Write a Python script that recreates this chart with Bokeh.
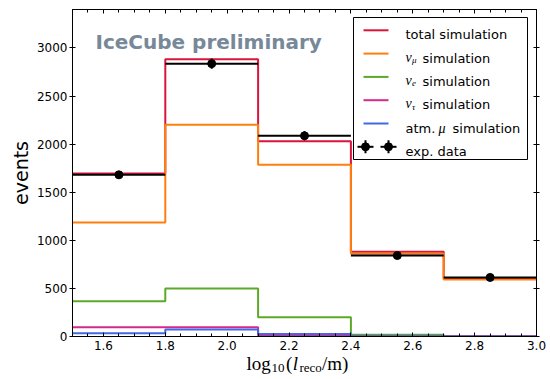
from bokeh.plotting import figure
from bokeh.layouts import column
from bokeh.models import FixedTicker, LinearAxis, Range1d, Label, BoxAnnotation
from bokeh.embed import file_html
from bokeh.resources import INLINE

# Bins in log10 of the reconstructed track length (metres)
bin_edges = [1.5, 1.8, 2.1, 2.4, 2.7, 3.0]

# Event counts per bin
total_sim = [1695, 2882, 2031, 880, 604]
numu_sim = [1185, 2202, 1785, 860, 592]
nue_sim = [366, 500, 201, 18, 4]
nutau_sim = [95, 95, 10, 3, 2]
atmmu_sim = [35, 74, 25, 3, 1]
exp_data = [1681, 2837, 2087, 842, 614]
exp_err = [41, 53, 46, 29, 25]

x_ticks = [1.6, 1.8, 2.0, 2.2, 2.4, 2.6, 2.8, 3.0]
x_tick_labels = ["1.6", "1.8", "2.0", "2.2", "2.4", "2.6", "2.8", "3.0"]
x_minor_ticks = [round(1.5 + 0.05 * i, 2) for i in range(31)]
y_ticks = [0, 500, 1000, 1500, 2000, 2500, 3000]
y_tick_labels = ["0", "500", "1000", "1500", "2000", "2500", "3000"]

series = [
    ("total simulation", total_sim, "#dc143c"),
    ("nu_mu", numu_sim, "#ff7f0e"),
    ("nu_e", nue_sim, "#5ca92a"),
    ("nu_tau", nutau_sim, "#d62a8a"),
    ("atm_mu", atmmu_sim, "#4169e1"),
]

W, H = 550, 379
LEFT, RIGHT, TOP, BOTTOM = 72, 14, 9, 43
X0, X1, Y0, Y1 = 1.5, 3.0, 0, 3400
FW, FH = W - LEFT - RIGHT, H - TOP - BOTTOM


def dx(px):
    """canvas pixel column -> data x"""
    return X0 + (px - LEFT) / FW * (X1 - X0)


def dy(py):
    """canvas pixel row -> data y"""
    return Y0 + (H - BOTTOM - py) / FH * (Y1 - Y0)


p = figure(width=W, height=H, output_backend="svg", toolbar_location=None,
           x_range=Range1d(X0, X1), y_range=Range1d(Y0, Y1),
           min_border_left=LEFT, min_border_right=RIGHT,
           min_border_top=TOP, min_border_bottom=BOTTOM)
p.grid.visible = False
p.outline_line_color = "black"
p.background_fill_color = "white"
p.border_fill_color = "white"

SANS = "DejaVu Sans"
SERIF = "Liberation Serif"


def style_x(ax, labels):
    ax.ticker = FixedTicker(ticks=x_ticks, minor_ticks=x_minor_ticks)
    ax.axis_line_color = "black"
    ax.major_tick_in, ax.major_tick_out = 4, 0
    ax.minor_tick_in, ax.minor_tick_out = 3, 0
    ax.major_tick_line_color = "black"
    ax.minor_tick_line_color = "black"
    if labels:
        ax.major_label_overrides = dict(zip(x_ticks, x_tick_labels))
        ax.major_label_text_font = SANS
        ax.major_label_text_font_size = "12px"
        ax.major_label_text_color = "black"
        ax.major_label_standoff = 4
    else:
        ax.major_label_text_font_size = "1px"
        ax.major_label_text_color = None
        ax.major_label_standoff = 0


def style_y(ax, labels):
    ax.ticker = FixedTicker(ticks=y_ticks, minor_ticks=[])
    ax.axis_line_color = "black"
    ax.major_tick_in, ax.major_tick_out = 3, 3
    ax.minor_tick_line_color = None
    ax.major_tick_line_color = "black"
    if labels:
        ax.major_label_overrides = dict(zip(y_ticks, y_tick_labels))
        ax.major_label_text_font = SANS
        ax.major_label_text_font_size = "12px"
        ax.major_label_text_color = "black"
        ax.major_label_standoff = 2
    else:
        ax.major_label_text_font_size = "1px"
        ax.major_label_text_color = None
        ax.major_label_standoff = 0


style_x(p.xaxis[0], True)
style_y(p.yaxis[0], True)
p.yaxis.axis_label = "events"
p.yaxis.axis_label_text_font = SANS
p.yaxis.axis_label_text_font_size = "19px"
p.yaxis.axis_label_text_font_style = "normal"
p.yaxis.axis_label_text_color = "black"
p.yaxis.axis_label_standoff = 2

top_axis = LinearAxis()
style_x(top_axis, False)
p.add_layout(top_axis, "above")
right_axis = LinearAxis()
style_y(right_axis, False)
p.add_layout(right_axis, "right")

# simulated histograms as step lines
for name, vals, color in series:
    p.step(x=bin_edges, y=vals + [vals[-1]], mode="after",
           line_color=color, line_width=2)

# measured data: bin-wide bars, error bars and points
centers = [(a + b) / 2 for a, b in zip(bin_edges[:-1], bin_edges[1:])]
p.segment(x0=bin_edges[:-1], x1=bin_edges[1:], y0=exp_data, y1=exp_data,
          line_color="black", line_width=2)
p.segment(x0=centers, x1=centers,
          y0=[v - e for v, e in zip(exp_data, exp_err)],
          y1=[v + e for v, e in zip(exp_data, exp_err)],
          line_color="black", line_width=2)
p.scatter(x=centers, y=exp_data, size=8, marker="circle",
          fill_color="black", line_color="black")

# header text
p.add_layout(Label(x=dx(95), y=dy(41.5), text="IceCube preliminary",
                   text_font=SANS, text_font_size="20px",
                   text_font_style="bold", text_color="#778899",
                   text_baseline="alphabetic"))

# legend box
p.add_layout(BoxAnnotation(left=dx(353), right=dx(527), top=dy(17), bottom=dy(159),
                           fill_color="white", fill_alpha=1.0,
                           line_color="black", line_width=1, line_alpha=1.0))

row_y = [29.8 + 23.3 * i for i in range(6)]
sample_x = [dx(363), dx(388)]
for (name, vals, color), ry in zip(series, row_y):
    p.line(x=sample_x, y=[dy(ry), dy(ry)], line_color=color, line_width=2,
           level="overlay")


def legend_text(px, py, text, font=SANS, size="13px", style="normal"):
    p.add_layout(Label(x=dx(px), y=dy(py), text=text, text_font=font,
                       text_font_size=size, text_font_style=style,
                       text_color="black", text_baseline="alphabetic",
                       level="overlay"))


TX = 405
legend_text(TX, row_y[0] + 4.5, "total simulation")
for ry, sub in zip(row_y[1:4], ["μ", "e", "τ"]):
    legend_text(TX, ry + 3.5, "ν", font=SERIF, size="14px", style="italic")
    legend_text(TX + 6.5, ry + 6.5, sub, font=SERIF, size="9px", style="italic")
    legend_text(TX + 17, ry + 4.5, "simulation")
legend_text(TX, row_y[4] + 4.5, "atm.")
legend_text(TX + 33, row_y[4] + 4.5, "μ", font=SERIF, size="14px", style="italic")
legend_text(TX + 47, row_y[4] + 4.5, "simulation")
legend_text(TX, row_y[5] + 4.5, "exp. data")

for mx in [365, 388]:
    p.scatter(x=[dx(mx)], y=[dy(row_y[5])], marker="dash", size=16,
              line_color="black", line_width=2, level="overlay")
    p.scatter(x=[dx(mx)], y=[dy(row_y[5])], marker="dash", angle=1.5708, size=13,
              line_color="black", line_width=2, level="overlay")
    p.scatter(x=[dx(mx)], y=[dy(row_y[5])], marker="circle", size=8,
              fill_color="black", line_color="black", level="overlay")

# x-axis title log10(l_reco/m), set on a transparent strip laid over the
# bottom margin of the plot so the subscripts can be placed freely.
# The strip's frame spans the same columns as the plot frame and its
# coordinates are canvas pixels.
STRIP_H = 27
strip = figure(width=W, height=STRIP_H, output_backend="svg", toolbar_location=None,
               x_range=Range1d(LEFT, W - RIGHT), y_range=Range1d(STRIP_H, 0),
               x_axis_type=None, y_axis_type=None,
               min_border_left=LEFT, min_border_right=RIGHT,
               min_border_top=0, min_border_bottom=0,
               margin=(-STRIP_H, 0, 0, 0))
strip.grid.visible = False
strip.outline_line_color = None
strip.background_fill_alpha = 0
strip.border_fill_alpha = 0

BASE = 363 - (H - STRIP_H)
x_title = [
    (246.0, BASE, "log", "normal", "19px"),
    (271.0, BASE + 4, "10", "normal", "13px"),
    (285.5, BASE, "(", "normal", "19px"),
    (292.3, BASE, "l", "italic", "19px"),
    (299.0, BASE + 4, "reco", "normal", "13px"),
    (321.5, BASE, "/m)", "normal", "19px"),
]
for px, py, txt, style, size in x_title:
    strip.add_layout(Label(x=px, y=py, text=txt, text_font=SERIF,
                           text_font_size=size, text_font_style=style,
                           text_color="black", text_baseline="alphabetic"))

layout = column(p, strip, spacing=0)
open("out.html", "w").write(file_html(layout, INLINE))
